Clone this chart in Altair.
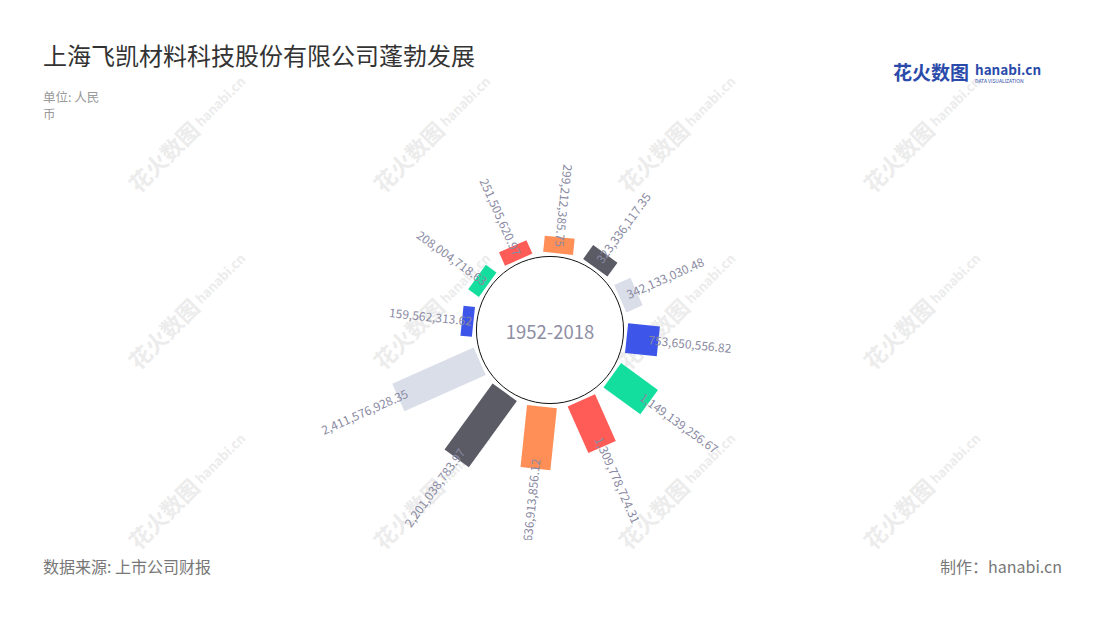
import math
import altair as alt
import pandas as pd

# ---- data ----
labels = [
    "159,562,313.62", "208,004,718.63", "251,505,620.97", "299,212,385.75",
    "323,336,117.35", "342,133,030.48", "753,650,556.82", "1,149,139,256.67",
    "1,309,778,724.31", "1,636,913,856.12", "2,201,038,783.97", "2,411,576,928.35",
]
values = [
    159562313.62, 208004718.63, 251505620.97, 299212385.75,
    323336117.35, 342133030.48, 753650556.82, 1149139256.67,
    1309778724.31, 1636913856.12, 2201038783.97, 2411576928.35,
]
center_label = ["1952-2018"]
palette = ["#3D55E8", "#14DE9E", "#FF5C57", "#FF8E57", "#5B5B66", "#DADEE9"]

FONT = "Noto Sans CJK SC"
W, H = 1084, 532
CX, CY = 542, 322
R0 = 83
LMAX = 83
VMAX = max(values)

df = pd.DataFrame({"idx": list(range(len(values))), "value": values, "label": labels})
df["c"] = df["idx"] % 6

xs = alt.Scale(domain=[0, W], range=[0, W], nice=False, zero=False)
ys = alt.Scale(domain=[0, H], range=[0, H], nice=False, zero=False)

base = alt.Chart(df).transform_calculate(
    theta="(276 + 30*datum.idx) % 360"
).transform_calculate(
    rad="datum.theta*PI/180",
    r1=f"{R0} + datum.value/{VMAX}*{LMAX}",
).transform_calculate(
    x0=f"{CX} + {R0 - 6}*sin(datum.rad)",
    y0=f"{CY} - {R0 - 6}*cos(datum.rad)",
    x1=f"{CX} + datum.r1*sin(datum.rad)",
    y1=f"{CY} - datum.r1*cos(datum.rad)",
    rl="datum.r1 - 10",
    flip="datum.theta >= 180 || datum.theta < 30",
).transform_calculate(
    lx=f"{CX} + datum.rl*sin(datum.rad)",
    ly=f"{CY} - datum.rl*cos(datum.rad)",
    ang="datum.flip ? (datum.theta + 90) % 360 : (datum.theta + 270) % 360",
)

bars = base.mark_rule(strokeWidth=30, strokeCap="butt").encode(
    x=alt.X("x0:Q", scale=xs, axis=None),
    y=alt.Y("y0:Q", scale=ys, axis=None),
    x2="x1:Q",
    y2="y1:Q",
    color=alt.Color("c:N", scale=alt.Scale(domain=list(range(6)), range=palette), legend=None),
)

cdf = pd.DataFrame({"label": center_label})
circle = alt.Chart(cdf).mark_point(
    shape="circle", size=math.pi * R0 * R0, filled=False, fill="white",
    fillOpacity=1, stroke="#111111", strokeWidth=1, opacity=1,
).encode(x=alt.value(CX), y=alt.value(CY))

center_text = alt.Chart(cdf).mark_text(
    font=FONT, fontSize=18.5, color="#8E8EA4", baseline="middle", align="center"
).encode(x=alt.value(CX), y=alt.value(CY + 3), text="label:N")

lab_common = dict(font=FONT, fontSize=12, color="#8A8AA2", baseline="middle", clip=True)
lab_enc = dict(
    x=alt.X("lx:Q", scale=xs, axis=None),
    y=alt.Y("ly:Q", scale=ys, axis=None),
    text="label:N",
    angle=alt.Angle("ang:Q", scale=None),
)
labels_out = base.transform_filter("!datum.flip").mark_text(align="left", **lab_common).encode(**lab_enc)
labels_in = base.transform_filter("datum.flip").mark_text(align="right", **lab_common).encode(**lab_enc)

# ---- decorative watermark ----
wm = pd.DataFrame([{"wx": x, "wy": y} for x in (157, 402, 647, 892) for y in (150, 327, 507)])
wm1 = alt.Chart(wm).mark_text(
    text="花火数图", font=FONT, fontSize=22, fontWeight="bold", color="#ECECEC", angle=315,
    align="center", baseline="middle",
).encode(x=alt.X("wx:Q", scale=xs, axis=None), y=alt.Y("wy:Q", scale=ys, axis=None))
wm2 = alt.Chart(wm).transform_calculate(wx2="datum.wx + 56", wy2="datum.wy - 56").mark_text(
    text="hanabi.cn", font=FONT, fontSize=13, fontWeight="bold", color="#ECECEC", angle=315,
    align="center", baseline="middle",
).encode(x=alt.X("wx2:Q", scale=xs, axis=None), y=alt.Y("wy2:Q", scale=ys, axis=None))

# ---- titles / notes ----
def txt(s, x, y, size, color, align="left", weight="normal"):
    return alt.Chart(cdf).mark_text(
        text=s, font=FONT, fontSize=size, color=color, align=align,
        baseline="alphabetic", fontWeight=weight,
    ).encode(x=alt.value(x), y=alt.value(y))

title = txt("上海飞凯材料科技股份有限公司蓬勃发展", 35, 57, 24, "#333333")
unit1 = txt("单位: 人民", 35, 94, 12.5, "#999999")
unit2 = txt("币", 35, 110.5, 12.5, "#999999")
src = txt("数据来源: 上市公司财报", 35, 565, 16, "#777777")
made = txt("制作：hanabi.cn", 1054, 565, 16, "#777777", align="right")
logo1 = txt("花火数图", 885, 72, 19, "#2B4BAA", weight="bold")
logo2 = txt("hanabi.cn", 967, 67, 13.5, "#2B4BAA", weight="bold")
logo3 = txt("DATA VISUALIZATION", 967, 74.5, 5, "#2B4BAA")

chart = alt.layer(
    wm1, wm2, bars, circle, center_text, labels_out, labels_in,
    title, unit1, unit2, src, made, logo1, logo2, logo3,
).properties(
    width=W, height=H,
    padding={"left": 0, "top": 0, "right": 0, "bottom": 72},
    autosize=alt.AutoSizeParams(type="none"),
    background="white",
).configure_view(stroke=None)

chart.save("out.html", embed_options={"renderer": "svg", "actions": False})
